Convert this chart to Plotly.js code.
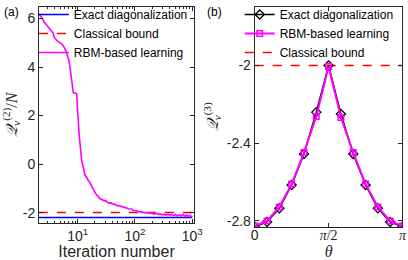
<!DOCTYPE html>
<html>
<head>
<meta charset="utf-8">
<script src="https://cdn.plot.ly/plotly-3.0.1.min.js"></script>
<style>html,body{margin:0;padding:0;background:#fff;}#chart{width:408px;height:260px;}</style>
</head>
<body>
<div id="chart"></div>
<script>
// ---- Panel (a): learning curve ----
const iterations = [2.1, 2.3, 2.6, 3.0, 3.4, 3.7, 3.9, 4.3, 5.1, 5.7, 6.3, 7.1, 7.4, 7.7, 8.4, 9.0, 9.6, 9.9, 10.3, 10.7, 11.0, 11.7, 12.4, 13.0, 13.4, 14.2, 14.8, 15.3, 16.3, 17.0, 17.5, 18.7, 19.5, 20, 21, 22, 23, 24, 26, 27, 29, 31, 32, 34, 35, 38, 40, 42, 44, 46, 50, 54, 57, 59, 62, 65, 68, 71, 77, 84, 88, 92, 100, 105, 110, 120, 128, 135, 150, 160, 170, 190, 200, 210, 240, 260, 270, 300, 320, 340, 380, 400, 430, 480, 510, 540, 600, 640, 680, 760, 800, 850, 900, 950, 1000];
const rbmQ2 = [6.18, 6.08, 5.86, 5.66, 5.52, 5.42, 5.22, 5.10, 4.98, 4.85, 4.64, 4.23, 3.85, 3.50, 2.94, 2.93, 2.91, 2.30, 1.50, 1.10, 0.83, 0.15, -0.08, -0.30, -0.46, -0.52, -0.62, -0.68, -0.76, -0.86, -0.95, -1.04, -1.12, -1.19, -1.24, -1.30, -1.33, -1.41, -1.43, -1.47, -1.52, -1.50, -1.55, -1.58, -1.61, -1.60, -1.64, -1.66, -1.65, -1.69, -1.72, -1.71, -1.75, -1.74, -1.78, -1.77, -1.81, -1.80, -1.84, -1.86, -1.85, -1.90, -1.91, -1.94, -1.93, -1.97, -1.96, -1.99, -2.00, -2.03, -2.01, -2.04, -2.02, -2.06, -2.04, -2.08, -2.05, -2.09, -2.06, -2.10, -2.07, -2.11, -2.08, -2.12, -2.07, -2.13, -2.09, -2.14, -2.08, -2.15, -2.10, -2.16, -2.11, -2.17, -2.14];
const edIterRange = [2.1, 1000];
const edQ2 = [-2.2, -2.2];
const classicalQ2 = [-2.0, -2.0];

// ---- Panel (b): Q3 vs theta ----
const theta = [0, 0.2618, 0.5236, 0.7854, 1.0472, 1.3090, 1.5708, 1.8326, 2.0944, 2.3562, 2.6180, 2.8798, 3.1416];
const edQ3 = [-2.83, -2.805, -2.735, -2.615, -2.455, -2.24, -2.00, -2.25, -2.455, -2.615, -2.735, -2.805, -2.83];
const rbmQ3 = [-2.826, -2.80, -2.728, -2.61, -2.448, -2.262, -2.005, -2.268, -2.448, -2.61, -2.728, -2.80, -2.826];
const thetaRange = [0, 3.1416];
const classicalQ3 = [-2.0, -2.0];

const leftXTicks = [10, 100, 1000];
const leftXText = ['10<sup>1</sup>', '10<sup>2</sup>', '10<sup>3</sup>'];
const leftYTicks = [-2, 0, 2, 4, 6];
const leftYText = ['-2', '0', '2', '4', '6'];
const rightYTicks = [-2.8, -2.4, -2];
const rightYText = ['-2.8', '-2.4', '-2'];
const rightXTicks = [0, 1.5708, 3.1416];
const rightXText = ['0', '<span style="font-family:Liberation Serif"><i>π</i>/2</span>', '<span style="font-family:Liberation Serif"><i>π</i></span>'];

const FONT = 'Liberation Sans, Arial, sans-serif';
const axColor = '#262626';

const traces = [
  {x: edIterRange, y: edQ2, type: 'scatter', mode: 'lines', name: 'Exact diagonalization',
   line: {color: '#0000ff', width: 1.5}, xaxis: 'x', yaxis: 'y', legend: 'legend'},
  {x: edIterRange, y: classicalQ2, type: 'scatter', mode: 'lines', name: 'Classical bound',
   line: {color: '#ff0000', width: 1.5, dash: 'dash'}, xaxis: 'x', yaxis: 'y', legend: 'legend'},
  {x: iterations, y: rbmQ2, type: 'scatter', mode: 'lines', name: 'RBM-based learning',
   line: {color: '#ff00ff', width: 1.6}, xaxis: 'x', yaxis: 'y', legend: 'legend'},
  {x: thetaRange, y: classicalQ3, type: 'scatter', mode: 'lines', name: 'Classical bound',
   line: {color: '#ff0000', width: 1.5, dash: 'dash'}, xaxis: 'x2', yaxis: 'y2', legend: 'legend2', legendrank: 3},
  {x: theta, y: edQ3, type: 'scatter', mode: 'lines+markers', name: 'Exact diagonalization',
   line: {color: '#000000', width: 1.5}, marker: {symbol: 'diamond-open', size: 7, color: '#000000', line: {width: 1.3}},
   xaxis: 'x2', yaxis: 'y2', legend: 'legend2', legendrank: 1},
  {x: theta, y: rbmQ3, type: 'scatter', mode: 'lines+markers', name: 'RBM-based learning',
   line: {color: '#ff00ff', width: 2}, marker: {symbol: 'square-open', size: 5.5, color: '#ff00ff', line: {width: 1.5}},
   xaxis: 'x2', yaxis: 'y2', legend: 'legend2', legendrank: 2}
];

const common = {showline: true, mirror: 'ticks', linecolor: axColor, linewidth: 1, ticks: 'inside',
  ticklen: 4, tickcolor: axColor, showgrid: false, zeroline: false, tickfont: {family: FONT, size: 14, color: '#262626'}};

const layout = {
  width: 408, height: 260,
  margin: {l: 0, r: 0, t: 0, b: 0},
  paper_bgcolor: '#ffffff', plot_bgcolor: '#ffffff',
  font: {family: FONT, color: '#262626'},
  showlegend: true,
  xaxis: Object.assign({}, common, {
    domain: [0.0956, 0.4755], type: 'log', range: [0.325, 3.03], tickvals: leftXTicks, ticktext: leftXText,
    anchor: 'y',
    minor: {ticks: 'inside', ticklen: 2, tickcolor: axColor, dtick: 'D1', showgrid: false},
    title: {text: 'Iteration number', font: {family: FONT, size: 16, color: '#262626'}, standoff: 9}
  }),
  yaxis: Object.assign({}, common, {
    domain: [0.1442, 0.982], range: [-2.42, 6.49], tickvals: leftYTicks, ticktext: leftYText, anchor: 'x',
    title: {text: '<i>𝒬</i><sub><i>v</i></sub><sup>(2)</sup>/<i>N</i>', font: {family: 'Liberation Serif, serif', size: 16, color: '#262626'}, standoff: 4}
  }),
  xaxis2: Object.assign({}, common, {
    domain: [0.6243, 0.9865], range: [0, 3.1416], tickvals: rightXTicks, ticktext: rightXText, anchor: 'y2',
    ticklabelstandoff: -5,
    title: {text: '<i>θ</i>', font: {family: 'Liberation Serif, serif', size: 16, color: '#262626'}, standoff: 3}
  }),
  yaxis2: Object.assign({}, common, {
    domain: [0.128, 0.982], range: [-2.831, -1.697], tickvals: rightYTicks, ticktext: rightYText, anchor: 'x2',
    title: {text: '<i>𝒬</i><sub><i>v</i></sub><sup>(3)</sup>', font: {family: 'Liberation Serif, serif', size: 16, color: '#262626'}, standoff: 4}
  }),
  legend: {x: 0.083, y: 1.008, xanchor: 'left', yanchor: 'top', bgcolor: 'rgba(0,0,0,0)', borderwidth: 0,
    font: {family: FONT, size: 12, color: '#000'}, traceorder: 'normal'},
  legend2: {x: 0.5875, y: 1.008, xanchor: 'left', yanchor: 'top', bgcolor: 'rgba(0,0,0,0)', borderwidth: 0,
    font: {family: FONT, size: 12, color: '#000'}, traceorder: 'normal'},
  annotations: [
    {text: '(a)', xref: 'paper', yref: 'paper', x: 0.005, y: 0.995, xanchor: 'left', yanchor: 'top', showarrow: false,
     font: {family: FONT, size: 12, color: '#000'}},
    {text: '(b)', xref: 'paper', yref: 'paper', x: 0.503, y: 0.995, xanchor: 'left', yanchor: 'top', showarrow: false,
     font: {family: FONT, size: 12, color: '#000'}}
  ]
};

Plotly.newPlot('chart', traces, layout, {staticPlot: true, displayModeBar: false});
</script>
</body>
</html>
